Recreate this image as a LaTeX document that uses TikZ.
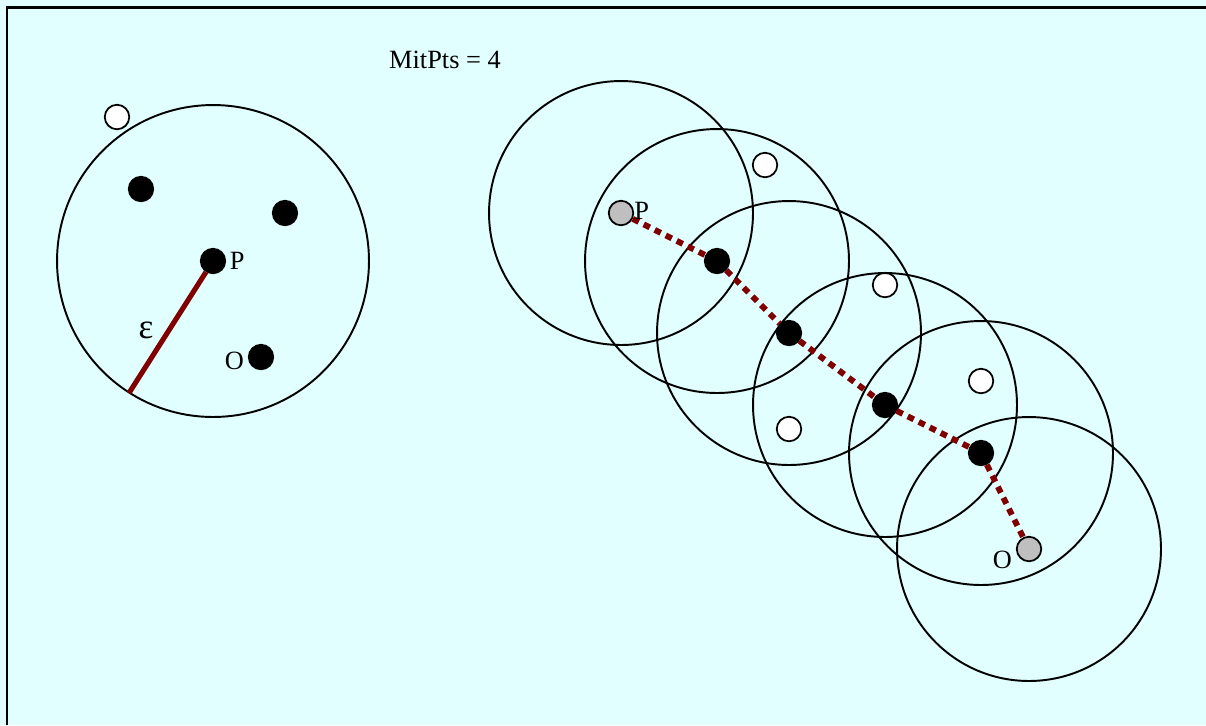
\documentclass[tikz,border=0pt]{standalone}
\usepackage{fontspec}
\setmainfont{Liberation Serif}
\usetikzlibrary{positioning}
\definecolor{speckle}{RGB}{226,255,255}
\definecolor{epsred}{RGB}{128,0,0}
\tikzset{
  core/.style={circle, draw=black, fill=black, line width=1pt, minimum size=0.49cm, inner sep=0pt},
  border/.style={core, fill=black!25},
  noise/.style={core, fill=white},
  hood/.style={draw=black, line width=1.1pt},
  radiusline/.style={draw=epsred, line width=2.9pt},
  reach/.style={draw=epsred, line width=3.4pt, dash pattern=on 3.8pt off 3.2pt},
  lbl/.style={inner sep=0pt, font=\fontsize{15}{18}\selectfont}
}

\begin{document}
\begin{tikzpicture}[x=0.02cm, y=-0.02cm]
  \useasboundingbox (0,0) rectangle (1206,725);
  \fill[speckle] (0,0) rectangle (1206,725);
  \draw[line width=1.7pt] (7,725) -- (7,7) -- (1206,7);

  \node[lbl] (minpts) at (445,60) {MitPts = 4};

  % core point P
  \node[noise] (lw) at (117,117) {};
  \node[core] (la) at (141,189) {};
  \node[core] (lb) at (285,213) {};
  \node[core] (lp) at (213,261) {};
  \node[core] (lo) at (261,357) {};
  \draw[hood] (lp) circle[radius=3.12cm];
  \node[lbl, right=2pt of lp] (lplab) {P};
  \node[lbl, left=2pt of lo, yshift=-2pt] (lolab) {O};
  \coordinate (lrim) at (129,393);
  \draw[radiusline] (lp) -- (lrim);
  \node[lbl, font=\fontsize{20}{22}\selectfont] (eps) at (146,330) {ε};

  % density reachable O
  \node[border] (rp) at (621,213) {};
  \node[core] (r1) at (717,261) {};
  \node[core] (r2) at (789,333) {};
  \node[core] (r3) at (885,405) {};
  \node[core] (r4) at (981,453) {};
  \node[border] (ro) at (1029,549) {};
  \node[noise] (rw1) at (765,165) {};
  \node[noise] (rw2) at (885,285) {};
  \node[noise] (rw3) at (981,381) {};
  \node[noise] (rw4) at (789,429) {};
  \foreach \c in {rp,r1,r2,r3,r4,ro}
    \draw[hood] (\c) circle[radius=2.64cm];
  \draw[reach] (rp) -- (r1) -- (r2) -- (r3) -- (r4) -- (ro);
  \node[lbl, right=0pt of rp, yshift=1pt] (rplab) {P};
  \node[lbl, left=2pt of ro, yshift=-6pt] (rolab) {O};
\end{tikzpicture}
\end{document}
